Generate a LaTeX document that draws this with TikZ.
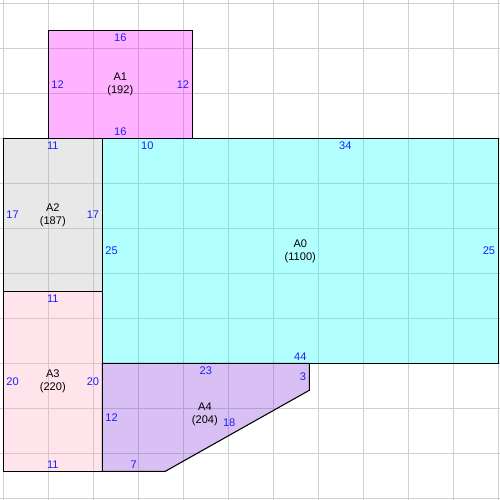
\documentclass[tikz,border=0pt]{standalone}
\usepackage{fontspec}
\setmainfont{Liberation Sans}
\usepackage{xcolor}
\usepackage{tikz}
\usetikzlibrary{positioning}
\definecolor{c0}{RGB}{0,255,255}
\definecolor{c1}{RGB}{255,0,255}
\definecolor{c2}{RGB}{178,178,178}
\definecolor{c3}{RGB}{255,165,191}
\definecolor{c4}{RGB}{125,46,219}
\definecolor{gridc}{RGB}{208,208,208}
\definecolor{dimc}{RGB}{30,30,255}
\tikzset{
  gridline/.style={draw=gridc, line width=0.57pt},
  room/.style={draw=black, line width=0.6pt, fill opacity=0.3, draw opacity=1, line join=miter},
  dim/.style={text=dimc, font=\fontsize{6.3}{7.4}\selectfont, inner sep=1.6pt},
  roomlabel/.style={font=\fontsize{6.3}{7.4}\selectfont, align=center, inner sep=0pt}
}

\begin{document}
\begin{tikzpicture}[x=0.18cm, y=-0.18cm]
    \useasboundingbox (-0.367,-0.367) rectangle (55.19,55.19);
    % grid, every 5 units
    \foreach \i in {0,5,...,55} {
        \draw [gridline] (\i,-0.367) -- (\i,55.19);
        \draw [gridline] (-0.367,\i) -- (55.19,\i);
    }

    % rooms
    \filldraw [room, fill=c0] (11,15) rectangle (55,40);
    \filldraw [room, fill=c1] (5,3) rectangle (21,15);
    \filldraw [room, fill=c2] (0,15) rectangle (11,32);
    \filldraw [room, fill=c3] (0,32) rectangle (11,52);
    \filldraw [room, fill=c4] (11,40) -- (34,40) -- (34,43) -- (18,52) -- (11,52) -- cycle;

    % A0
    \node [roomlabel] (a0) at (33,27.5) {A0\\(1100)};
    \node [dim, anchor=north] (a0top1) at (16,15) {10};
    \node [dim, anchor=north] (a0top2) at (38,15) {34};
    \node [dim, anchor=west] (a0left) at (11,27.5) {25};
    \node [dim, anchor=east] (a0right) at (55,27.5) {25};
    \node [dim, anchor=south] (a0bot) at (33,40) {44};

    % A1
    \node [roomlabel] (a1) at (13,9) {A1\\(192)};
    \node [dim, anchor=north] (a1top) at (13,3) {16};
    \node [dim, anchor=south] (a1bot) at (13,15) {16};
    \node [dim, anchor=west] (a1left) at (5,9) {12};
    \node [dim, anchor=east] (a1right) at (21,9) {12};

    % A2
    \node [roomlabel] (a2) at (5.5,23.5) {A2\\(187)};
    \node [dim, anchor=north] (a2top) at (5.5,15) {11};
    \node [dim, anchor=west] (a2left) at (0,23.5) {17};
    \node [dim, anchor=east] (a2right) at (11,23.5) {17};

    % A3
    \node [roomlabel] (a3) at (5.5,42) {A3\\(220)};
    \node [dim, anchor=north] (a3top) at (5.5,32) {11};
    \node [dim, anchor=south] (a3bot) at (5.5,52) {11};
    \node [dim, anchor=west] (a3left) at (0,42) {20};
    \node [dim, anchor=east] (a3right) at (11,42) {20};

    % A4
    \node [roomlabel] (a4) at (22.4,45.7) {A4\\(204)};
    \node [dim, anchor=north] (a4top) at (22.5,40) {23};
    \node [dim, anchor=east] (a4right) at (34,41.5) {3};
    \node [dim, anchor=west] (a4left) at (11,46) {12};
    \node [dim, anchor=south] (a4bot) at (14.5,52) {7};
    \node [dim] (a4slant) at (25.1,46.6) {18};
\end{tikzpicture}
\end{document}
